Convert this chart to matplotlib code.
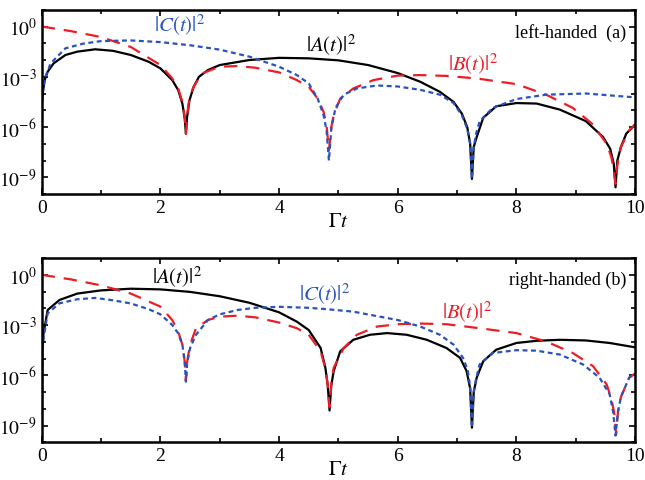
import numpy as np
import matplotlib.pyplot as plt
from matplotlib.ticker import FixedLocator, MultipleLocator, NullFormatter, FuncFormatter

plt.rcParams["font.family"] = "Liberation Serif"
plt.rcParams["mathtext.fontset"] = "stix"

# values, stored as log10 of the probability

# left-handed (a)
tA_a = [0.0, 0.02, 0.05, 0.1, 0.2, 0.4, 0.6, 0.9, 1.2, 1.5, 1.8, 2.0, 2.2, 2.3, 2.37, 2.41, 2.43, 2.45, 2.49,
        2.56, 2.65, 2.8, 3.0, 3.5, 4.0, 4.5, 5.0, 5.5, 6.0, 6.38, 6.71, 6.94, 7.08, 7.17, 7.22, 7.25, 7.28,
        7.33, 7.44, 7.66, 8.0, 8.34, 8.73, 9.17, 9.46, 9.58, 9.64, 9.67, 9.7, 9.76, 9.85, 10.0]
lA_a = [-4.6, -3.9, -3.2, -2.7, -2.2, -1.7, -1.5, -1.36, -1.45, -1.7, -2.1, -2.5, -3.2, -3.8, -4.6, -5.5, -6.4, -5.4,
        -4.4, -3.6, -3.0, -2.6, -2.3, -2.0, -1.87, -1.9, -2.02, -2.3, -2.78, -3.3, -3.9, -4.5, -5.2, -6.0, -7.0, -9.1,
        -7.2, -6.6, -5.45, -4.76, -4.57, -4.6, -4.96, -5.65, -6.6, -7.3, -8.2, -9.6, -8.0, -7.2, -6.4, -5.85]

tB_a = [0.0, 0.5, 1.0, 1.5, 2.0, 2.2, 2.3, 2.37, 2.41, 2.43, 2.45, 2.49, 2.56, 2.7, 3.0, 3.3, 3.6, 4.0, 4.3,
        4.5, 4.65, 4.75, 4.8, 4.84, 4.88, 4.92, 5.03, 5.25, 5.59, 6.0, 6.38, 6.82, 7.33, 8.0, 8.5, 8.95, 9.29,
        9.52, 9.6, 9.64, 9.67, 9.7, 9.76, 9.9, 10.0]
lB_a = [0.0, -0.28, -0.63, -1.22, -2.3, -3.1, -3.7, -4.5, -5.4, -6.4, -5.3, -4.2, -3.6, -2.8, -2.4, -2.36, -2.46,
        -2.74, -3.2, -3.6, -4.3, -5.1, -5.9, -7.4, -6.0, -5.3, -4.3, -3.7, -3.2, -2.93, -2.9, -2.95, -3.1, -3.44,
        -4.07, -4.86, -5.85, -7.0, -7.8, -8.6, -9.4, -8.3, -7.2, -6.2, -5.85]

tC_a = [0.0, 0.02, 0.05, 0.15, 0.4, 0.7, 1.0, 1.5, 2.0, 2.5, 3.0, 3.5, 4.0, 4.3, 4.5, 4.65, 4.75, 4.8, 4.84,
        4.88, 4.95, 5.09, 5.31, 5.65, 6.0, 6.38, 6.71, 6.94, 7.08, 7.17, 7.22, 7.25, 7.28, 7.32, 7.38, 7.6, 8.0,
        8.5, 9.17, 10.0]
lC_a = [-5.0, -3.9, -3.1, -2.2, -1.3, -1.02, -0.87, -0.83, -0.93, -1.12, -1.38, -1.8, -2.4, -2.9, -3.4, -4.3, -5.3,
        -6.2, -8.0, -6.1, -4.86, -4.07, -3.7, -3.52, -3.58, -3.78, -4.07, -4.57, -5.3, -6.1, -7.0, -9.1, -7.2, -6.4,
        -5.65, -4.86, -4.33, -4.07, -4.0, -4.23]

# right-handed (b)
tA_b = [0.0, 0.01, 0.03, 0.1, 0.3, 0.6, 1.0, 1.5, 2.0, 2.5, 3.0, 3.5, 4.0, 4.3, 4.5, 4.7, 4.78, 4.82, 4.85,
        4.88, 4.92, 5.03, 5.25, 5.53, 5.82, 6.15, 6.49, 6.82, 7.05, 7.16, 7.22, 7.25, 7.28, 7.33, 7.44, 7.66,
        8.0, 8.34, 8.73, 9.17, 9.57, 10.0]
lA_b = [-10.0, -4.6, -3.5, -2.1, -1.5, -1.12, -0.93, -0.83, -0.87, -1.02, -1.28, -1.67, -2.24, -2.8, -3.3, -4.37,
        -5.55, -6.6, -8.1, -6.6, -5.75, -4.57, -3.88, -3.58, -3.48, -3.58, -3.88, -4.37, -4.96, -5.75, -6.8, -9.13,
        -7.0, -6.14, -5.16, -4.47, -4.07, -3.94, -3.88, -3.92, -4.07, -4.33]

tB_b = [0.0, 0.5, 1.0, 1.5, 2.0, 2.2, 2.3, 2.37, 2.41, 2.43, 2.45, 2.5, 2.6, 2.8, 3.0, 3.3, 3.6, 4.0, 4.3, 4.5,
        4.7, 4.78, 4.82, 4.85, 4.88, 4.92, 5.09, 5.31, 5.65, 6.0, 6.38, 6.82, 7.38, 8.0, 8.5, 8.95, 9.29, 9.52,
        9.6, 9.65, 9.68, 9.71, 9.76, 9.9, 10.0]
lB_b = [0.0, -0.28, -0.63, -1.12, -1.9, -2.7, -3.4, -4.17, -5.2, -6.34, -5.2, -4.17, -3.19, -2.7, -2.5, -2.44,
        -2.54, -2.85, -3.19, -3.58, -4.57, -5.6, -6.6, -7.9, -6.5, -5.55, -4.37, -3.58, -3.09, -2.95, -2.91, -2.95,
        -3.19, -3.48, -3.98, -4.67, -5.45, -6.54, -7.4, -8.3, -9.5, -8.2, -7.3, -6.14, -5.9]

tC_b = [0.0, 0.01, 0.03, 0.1, 0.3, 0.6, 0.9, 1.2, 1.5, 1.8, 2.0, 2.2, 2.3, 2.37, 2.41, 2.43, 2.45, 2.5, 2.6,
        2.8, 3.0, 3.3, 3.6, 4.0, 4.5, 4.8, 5.25, 6.0, 6.38, 6.71, 6.94, 7.1, 7.18, 7.22, 7.25, 7.28, 7.32, 7.38,
        7.6, 8.0, 8.34, 8.73, 9.12, 9.4, 9.57, 9.63, 9.67, 9.71, 9.76, 9.9, 10.0]
lC_b = [-10.0, -4.8, -3.8, -2.3, -1.7, -1.46, -1.38, -1.52, -1.71, -2.05, -2.36, -3.0, -3.5, -4.17, -5.2, -6.38,
        -5.3, -4.37, -3.58, -2.7, -2.36, -2.1, -1.97, -1.91, -1.97, -2.05, -2.2, -2.7, -3.09, -3.58, -4.17, -4.96,
        -5.7, -6.7, -9.13, -7.0, -6.2, -5.35, -4.67, -4.5, -4.53, -4.76, -5.35, -6.14, -7.13, -8.2, -9.6, -8.2,
        -7.3, -6.14, -5.9]

# curve label anchors (t, log10 of the label's lower edge)
labels_a = [(1.9, -0.62, "C", "#2a52be"), (4.45, -1.8, "A", "black"), (6.85, -2.98, "B", "#ee1c25")]
labels_b = [(1.85, -0.84, "A", "black"), (4.33, -1.84, "C", "#2a52be"), (6.75, -2.92, "B", "#ee1c25")]

panels = [
    ("left-handed  (a)", tA_a, lA_a, tB_a, lB_a, tC_a, lC_a, labels_a),
    ("right-handed (b)", tA_b, lA_b, tB_b, lB_b, tC_b, lC_b, labels_b),
]

fig = plt.figure(figsize=(6.45, 4.81), dpi=100)
axes = [fig.add_axes([0.0647, 0.5946, 0.920, 0.383]), fig.add_axes([0.0647, 0.0784, 0.920, 0.383])]

for ax, (tag, tA, lA, tB, lB, tC, lC, labels) in zip(axes, panels):
    ax.plot(tA, 10 ** np.array(lA), color="black", lw=1.6)
    ax.plot(tB, 10 ** np.array(lB), color="#ee1c25", lw=1.6, dashes=(6, 4))
    ax.plot(tC, 10 ** np.array(lC), color="#2a52be", lw=1.6, dashes=(2.2, 1.6))
    ax.set_yscale("log")
    ax.set_xlim(0, 10)
    ax.set_ylim(1e-10, 10)
    ax.xaxis.set_major_locator(MultipleLocator(2))
    ax.xaxis.set_minor_locator(MultipleLocator(1))
    ax.yaxis.set_major_locator(FixedLocator([1e-9, 1e-6, 1e-3, 1e0]))
    ax.yaxis.set_minor_locator(FixedLocator([10.0 ** k for k in range(-10, 2)]))
    ax.yaxis.set_minor_formatter(NullFormatter())
    ax.yaxis.set_major_formatter(FuncFormatter(lambda v, p: r"$10^{%d}$" % round(np.log10(v))))
    ax.tick_params(which="both", direction="in", top=True, right=True, labelsize=14, width=1.2)
    ax.tick_params(which="major", length=4)
    ax.tick_params(which="minor", length=3)
    for s in ax.spines.values():
        s.set_linewidth(1.8)
    ax.set_xlabel(r"$\Gamma t$", fontsize=15, labelpad=-3)
    ax.text(0.985, 0.93, tag, transform=ax.transAxes, ha="right", va="top", fontsize=13)
    for x, y, name, col in labels:
        ax.text(x, 10 ** y, r"$|%s(t)|^2$" % name, color=col, fontsize=15, ha="left", va="bottom")

fig.savefig("out.png", dpi=100)
